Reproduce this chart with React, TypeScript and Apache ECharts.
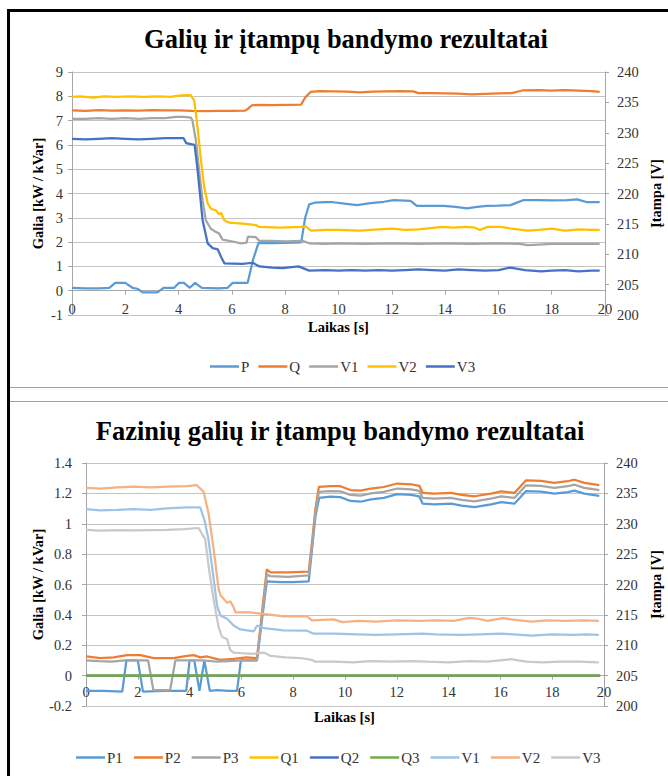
import React, { useEffect, useRef } from "react";
import * as echarts from "echarts";

const FONT = "Liberation Serif";

// ---------- Chart 1: Galių ir įtampų bandymo rezultatai ----------
const title1 = "Galių ir įtampų bandymo rezultatai";
const legend1 = ["P", "Q", "V1", "V2", "V3"];
const colors1 = ["#5B9BD5", "#ED7D31", "#A5A5A5", "#FFC000", "#4472C4"];

// P, Q in kW / kVar (left axis); time in s
const P: [number, number][] = [[0,0.12],[0.5,0.1],[1,0.1],[1.4,0.12],[1.62,0.32],[2.0,0.32],[2.27,0.12],[2.45,0.08],[2.65,-0.07],[3.2,-0.07],[3.45,0.12],[3.83,0.12],[4.02,0.32],[4.2,0.32],[4.42,0.12],[4.62,0.32],[4.87,0.12],[5.5,0.1],[5.84,0.12],[6.03,0.32],[6.59,0.32],[6.8,1.3],[7.0,1.97],[7.5,1.96],[8.0,1.97],[8.6,1.99],[8.75,3.0],[8.9,3.55],[9.1,3.62],[9.5,3.64],[9.8,3.64],[10.3,3.57],[10.7,3.52],[11.2,3.6],[11.7,3.66],[12.07,3.73],[12.7,3.7],[12.94,3.49],[13.5,3.49],[13.94,3.49],[14.4,3.45],[14.82,3.39],[15.2,3.45],[15.57,3.49],[16.0,3.5],[16.45,3.52],[16.95,3.73],[17.5,3.73],[18.0,3.72],[18.58,3.73],[18.96,3.76],[19.33,3.64],[19.8,3.64]];
const Q: [number, number][] = [[0,7.42],[0.5,7.4],[1,7.43],[1.5,7.41],[2,7.42],[2.5,7.41],[3,7.43],[3.5,7.42],[4,7.42],[4.5,7.4],[5,7.39],[5.5,7.4],[6,7.4],[6.5,7.41],[6.62,7.5],[6.75,7.63],[7,7.65],[7.5,7.64],[8,7.65],[8.6,7.66],[8.75,7.95],[8.95,8.18],[9.3,8.21],[9.8,8.2],[10.3,8.19],[10.8,8.16],[11.3,8.19],[11.8,8.2],[12.3,8.21],[12.8,8.2],[13.0,8.13],[13.5,8.13],[14,8.12],[14.5,8.11],[15,8.08],[15.5,8.1],[16,8.12],[16.5,8.13],[16.9,8.24],[17.5,8.25],[18,8.23],[18.5,8.25],[19,8.23],[19.5,8.21],[19.8,8.18]];
// V1..V3 in volts (right axis)
const V1a: [number, number][] = [[0,232.3],[0.5,232.3],[1,232.4],[1.5,232.3],[2,232.4],[2.5,232.3],[3,232.4],[3.5,232.4],[3.9,232.6],[4.2,232.6],[4.46,232.5],[4.52,232.0],[4.65,228.7],[4.77,223.8],[4.9,218.9],[5.02,215.6],[5.21,214.2],[5.35,213.8],[5.52,213.4],[5.65,212.4],[6.03,212.1],[6.34,211.8],[6.55,211.9],[6.6,212.9],[6.9,212.8],[7.03,212.2],[7.5,212.2],[8.0,212.1],[8.65,212.2],[8.9,211.8],[9.5,211.7],[10,211.8],[11,211.7],[12,211.8],[13,211.7],[14,211.8],[15,211.7],[16,211.8],[16.8,211.7],[17.1,211.5],[17.5,211.6],[18,211.7],[19,211.7],[19.8,211.7]];
const V2a: [number, number][] = [[0,235.9],[0.3,236.0],[0.8,235.8],[1.2,236.0],[1.7,235.9],[2.2,236.0],[2.7,235.9],[3.2,236.0],[3.7,235.9],[4.0,236.1],[4.3,236.2],[4.45,236.2],[4.59,235.3],[4.71,230.9],[4.84,225.4],[4.96,221.1],[5.09,218.4],[5.21,217.5],[5.4,217.2],[5.52,216.6],[5.6,216.8],[5.71,215.6],[5.9,215.2],[6.5,215.0],[6.9,214.8],[7.03,214.5],[7.8,214.4],[8.58,214.5],[8.77,214.6],[8.96,213.9],[9.5,214.0],[10,214.0],[10.8,213.9],[11.5,214.1],[12,214.2],[12.5,214.0],[13,214.1],[13.9,214.5],[14.3,214.4],[14.8,214.5],[15.1,214.4],[15.3,214.0],[15.6,214.5],[16.1,214.5],[16.5,214.2],[17.1,213.9],[17.5,214.0],[18,214.2],[18.5,213.9],[19,214.1],[19.5,214.0],[19.8,214.0]];
const V3a: [number, number][] = [[0,229.0],[0.5,228.9],[1,229.0],[1.5,229.1],[2,229.0],[2.5,228.9],[3,229.0],[3.5,229.1],[4.0,229.1],[4.19,229.1],[4.28,228.3],[4.6,228.0],[4.7,224.4],[4.9,215.6],[5.09,211.8],[5.28,211.0],[5.47,210.8],[5.59,209.6],[5.72,208.5],[6.4,208.4],[6.78,208.6],[7.03,208.0],[7.5,207.8],[7.9,207.7],[8.5,208.0],[8.9,207.3],[9.5,207.4],[10,207.3],[10.5,207.4],[11,207.3],[11.5,207.4],[12,207.3],[12.5,207.4],[13,207.5],[13.5,207.4],[14,207.3],[14.5,207.5],[15,207.4],[15.5,207.3],[16,207.4],[16.45,207.8],[17,207.4],[17.6,207.2],[18,207.3],[18.5,207.4],[19,207.2],[19.5,207.3],[19.8,207.3]];

// ---------- Chart 2: Fazinių galių ir įtampų bandymo rezultatai ----------
const title2 = "Fazinių galių ir įtampų bandymo rezultatai";
const legend2 = ["P1", "P2", "P3", "Q1", "Q2", "Q3", "V1", "V2", "V3"];
const colors2 = ["#5B9BD5", "#ED7D31", "#A5A5A5", "#FFC000", "#4472C4", "#70AD47", "#9DC3E6", "#F4B183", "#C9C9C9"];

const P1: [number, number][] = [[0,-0.1],[0.7,-0.1],[1.4,-0.105],[1.56,0.1],[2.0,0.1],[2.2,-0.105],[3.0,-0.1],[3.87,-0.1],[4.0,0.1],[4.18,0.1],[4.38,-0.1],[4.57,0.1],[4.78,-0.1],[5.06,-0.095],[5.5,-0.1],[5.83,-0.1],[5.98,0.1],[6.6,0.1],[6.98,0.62],[7.5,0.615],[8.0,0.615],[8.6,0.62],[8.73,0.84],[8.86,1.05],[9.0,1.17],[9.44,1.178],[9.82,1.175],[10.21,1.15],[10.6,1.145],[11.0,1.16],[11.5,1.17],[12.02,1.195],[12.55,1.19],[12.87,1.18],[13.0,1.132],[13.45,1.128],[14.1,1.132],[14.5,1.12],[15.0,1.11],[15.64,1.128],[16.03,1.142],[16.54,1.132],[16.99,1.215],[17.57,1.212],[18.08,1.198],[18.6,1.208],[18.86,1.218],[19.24,1.198],[19.82,1.183]];
const P2: [number, number][] = [[0,0.126],[0.55,0.115],[1.07,0.12],[1.58,0.135],[2.1,0.135],[2.61,0.115],[3.38,0.115],[3.9,0.13],[4.16,0.135],[4.41,0.12],[4.67,0.126],[5.18,0.104],[5.7,0.11],[6.2,0.12],[6.6,0.115],[6.98,0.7],[7.12,0.68],[7.8,0.68],[8.6,0.685],[8.73,0.885],[8.86,1.1],[8.99,1.243],[9.44,1.248],[9.82,1.247],[10.21,1.222],[10.6,1.218],[11.0,1.232],[11.5,1.242],[12.02,1.265],[12.55,1.26],[12.87,1.25],[13.0,1.203],[13.45,1.199],[14.1,1.203],[14.5,1.19],[15.0,1.181],[15.64,1.199],[16.03,1.213],[16.54,1.203],[16.99,1.286],[17.57,1.282],[18.08,1.269],[18.6,1.28],[18.86,1.29],[19.24,1.269],[19.82,1.254]];
const P3: [number, number][] = [[0,0.1],[0.5,0.095],[1.0,0.092],[1.5,0.1],[2.4,0.1],[2.6,-0.095],[3.25,-0.095],[3.45,0.1],[4.5,0.1],[5.0,0.093],[5.5,0.095],[6.0,0.1],[6.6,0.1],[6.98,0.665],[7.12,0.655],[7.8,0.65],[8.6,0.66],[8.73,0.86],[8.86,1.075],[8.99,1.21],[9.44,1.215],[9.82,1.213],[10.21,1.19],[10.6,1.185],[11.0,1.2],[11.5,1.21],[12.02,1.232],[12.55,1.227],[12.87,1.217],[13.0,1.17],[13.45,1.166],[14.1,1.17],[14.5,1.157],[15.0,1.148],[15.64,1.166],[16.03,1.18],[16.54,1.17],[16.99,1.253],[17.57,1.249],[18.08,1.236],[18.6,1.247],[18.86,1.257],[19.24,1.236],[19.82,1.221]];
const qTime = [0, 5, 10, 15, 19.85];
const Q1v = [0, 0, 0, 0, 0];
const Q2v = [0, 0, 0, 0, 0];
const Q3v = [0, 0, 0, 0, 0];
const V1b: [number, number][] = [[0,232.4],[0.55,232.2],[1.2,232.3],[1.84,232.4],[2.5,232.3],[3.13,232.55],[3.9,232.7],[4.41,232.7],[4.57,230.65],[4.73,227.4],[4.93,220.9],[5.06,216.5],[5.19,214.9],[5.45,214.35],[5.7,213.25],[5.96,212.6],[6.22,212.45],[6.48,212.3],[6.61,213.25],[6.87,212.8],[7.63,212.45],[8.53,212.4],[8.79,211.9],[9.56,211.9],[10.5,211.8],[11.2,211.7],[12,211.8],[13,211.9],[13.5,211.8],[14.5,211.7],[15.2,211.8],[16,211.9],[16.5,211.8],[17.2,211.6],[18,211.8],[18.8,211.7],[19.3,211.8],[19.8,211.7]];
const V2b: [number, number][] = [[0,235.9],[0.55,235.8],[1.2,236.0],[1.84,236.1],[2.5,236.0],[3.13,236.1],[3.9,236.2],[4.28,236.35],[4.54,235.25],[4.73,231.75],[4.93,225.75],[5.12,219.25],[5.19,218.25],[5.45,217.0],[5.57,217.25],[5.7,216.25],[5.77,215.4],[6.35,215.4],[6.86,215.15],[7.63,214.75],[8.53,214.75],[8.72,214.1],[9.56,214.25],[9.9,213.8],[10.5,214.0],[11.2,213.9],[12,214.1],[12.9,214.0],[13.5,214.1],[14.2,214.0],[14.8,214.5],[15.1,214.4],[15.5,214.0],[16.1,214.45],[16.5,214.2],[17.2,213.9],[17.8,214.1],[18.5,214.0],[19.2,214.1],[19.8,214.0]];
const V3b: [number, number][] = [[0,229.0],[0.55,228.85],[1.2,228.95],[1.84,228.9],[2.5,228.95],[3.13,229.0],[3.8,229.1],[4.35,229.3],[4.48,228.3],[4.6,227.5],[4.75,222.5],[4.93,217.4],[5.12,213.0],[5.25,211.4],[5.45,211.0],[5.57,209.2],[5.7,208.8],[5.96,208.7],[6.48,208.6],[6.87,208.8],[7.12,208.25],[7.7,208.0],[8.28,207.9],[8.72,207.6],[8.85,207.3],[9.56,207.3],[10.3,207.2],[11,207.4],[11.8,207.3],[12.5,207.4],[13.2,207.3],[14,207.2],[14.8,207.4],[15.5,207.3],[16.4,207.7],[17,207.3],[17.6,207.2],[18.3,207.3],[19,207.3],[19.8,207.2]];

const xName = "Laikas [s]";
const yLeftName = "Galia [kW / kVar]";
const yRightName = "Įtampa [V]";

const zip = (t: number[], v: number[]) => t.map((x, i) => [x, v[i]]);

const AX = "#A6A6A6";
const GRID = "#C4C4C4";
const LBL = "#333333";

function line(name: string, data: any[], color: string, yAxisIndex: number) {
  return {
    type: "line",
    name,
    data,
    yAxisIndex,
    showSymbol: false,
    symbol: "none",
    silent: true,
    lineStyle: { color, width: 2.25 },
    itemStyle: { color },
  };
}

function makeOption(cfg: {
  title: string; titleX: number; titleY: number;
  grid: { left: number; right: number; top: number; height: number };
  yMin: number; yMax: number; yInt: number; yLabelMargin: number; xLabelMargin: number;
  xNameX: number; xNameY: number; sideNameY: number;
  legendNames: string[]; legendLeft: number; legendTop: number; legendGap: number;
  series: any[];
}) {
  const textStyle = { fontFamily: FONT, fontSize: 14.5, color: LBL, fontWeight: "normal" };
  // x axis crosses the left value axis at 0: shift it up from the bottom by the zero's share of the height
  const zeroOffset = -cfg.grid.height * (0 - cfg.yMin) / (cfg.yMax - cfg.yMin);
  return {
    animation: false,
    textStyle: { fontFamily: FONT },
    grid: { ...cfg.grid, containLabel: false },
    xAxis: {
      type: "value", min: 0, max: 20, interval: 2,
      position: "bottom",
      offset: zeroOffset,
      axisLine: { show: true, onZero: false, lineStyle: { color: AX, width: 1 } },
      axisTick: { show: true, length: 4, lineStyle: { color: AX } },
      axisLabel: { ...textStyle, margin: cfg.xLabelMargin, showMaxLabel: true, showMinLabel: true },
      splitLine: { show: false },
    },
    yAxis: [
      {
        type: "value", min: cfg.yMin, max: cfg.yMax, interval: cfg.yInt,
        axisLine: { show: true, onZero: false, lineStyle: { color: AX } },
        axisTick: { show: true, length: 4, lineStyle: { color: AX } },
        axisLabel: { ...textStyle, margin: cfg.yLabelMargin },
        splitLine: { show: true, showMinLine: true, showMaxLine: true, lineStyle: { color: GRID, width: 1 } },
      },
      {
        type: "value", position: "right", min: 200, max: 240, interval: 5,
        axisLine: { show: true, onZero: false, lineStyle: { color: AX } },
        axisTick: { show: true, length: 4, lineStyle: { color: AX } },
        axisLabel: { ...textStyle, margin: 12 },
        splitLine: { show: false },
      },
    ],
    legend: {
      data: cfg.legendNames,
      left: cfg.legendLeft,
      top: cfg.legendTop,
      icon: "rect",
      itemWidth: 29,
      itemHeight: 2.5,
      itemGap: cfg.legendGap,
      selectedMode: false,
      textStyle: { fontFamily: FONT, fontSize: 15, color: LBL, padding: [0, 0, 0, -3] },
    },
    graphic: [
      {
        type: "text", x: cfg.titleX, y: cfg.titleY,
        style: { text: cfg.title, fontFamily: FONT, fontSize: 26.5, fontWeight: "bold", fill: "#000", align: "center", verticalAlign: "middle" },
      },
      {
        type: "text", x: cfg.xNameX, y: cfg.xNameY,
        style: { text: xName, fontFamily: FONT, fontSize: 14.5, fontWeight: "bold", fill: "#000", align: "center", verticalAlign: "middle" },
      },
      {
        type: "text", x: 37.5, y: cfg.sideNameY, rotation: Math.PI / 2,
        style: { text: yLeftName, fontFamily: FONT, fontSize: 14.5, fontWeight: "bold", fill: "#000", align: "center", verticalAlign: "middle" },
      },
      {
        type: "text", x: 656, y: cfg.sideNameY, rotation: Math.PI / 2,
        style: { text: yRightName, fontFamily: FONT, fontSize: 14.5, fontWeight: "bold", fill: "#000", align: "center", verticalAlign: "middle" },
      },
    ],
    series: cfg.series,
  };
}

const option1 = makeOption({
  title: title1, titleX: 346, titleY: 39,
  grid: { left: 72, right: 63, top: 72, height: 243 },
  yMin: -1, yMax: 9, yInt: 1, yLabelMargin: 9, xLabelMargin: 11,
  xNameX: 338.5, xNameY: 326.5, sideNameY: 193.5,
  legendNames: legend1, legendLeft: 205, legendTop: 354, legendGap: 9,
  series: [
    line(legend1[0], P, colors1[0], 0),
    line(legend1[1], Q, colors1[1], 0),
    line(legend1[2], V1a, colors1[2], 1),
    line(legend1[3], V2a, colors1[3], 1),
    line(legend1[4], V3a, colors1[4], 1),
  ],
});

const TOP2 = 402;
const option2 = makeOption({
  title: title2, titleX: 340, titleY: 430.5 - TOP2,
  grid: { left: 86, right: 64, top: 463 - TOP2, height: 243 },
  yMin: -0.2, yMax: 1.4, yInt: 0.2, yLabelMargin: 14, xLabelMargin: 9,
  xNameX: 344.5, xNameY: 717 - TOP2, sideNameY: 584.5 - TOP2,
  legendNames: legend2, legendLeft: 71, legendTop: 745 - TOP2, legendGap: 11,
  series: [
    line(legend2[0], P1, colors2[0], 0),
    line(legend2[1], P2, colors2[1], 0),
    line(legend2[2], P3, colors2[2], 0),
    line(legend2[3], zip(qTime, Q1v), colors2[3], 0),
    line(legend2[4], zip(qTime, Q2v), colors2[4], 0),
    line(legend2[5], zip(qTime, Q3v), colors2[5], 0),
    line(legend2[6], V1b, colors2[6], 1),
    line(legend2[7], V2b, colors2[7], 1),
    line(legend2[8], V3b, colors2[8], 1),
  ],
});

function Chart({ option, style }: { option: any; style: React.CSSProperties }) {
  const ref = useRef<HTMLDivElement>(null);
  useEffect(() => {
    const chart = echarts.init(ref.current!, null, { renderer: "svg" });
    chart.setOption(option);
    return () => chart.dispose();
  }, [option]);
  return <div ref={ref} style={style} />;
}

export default function App() {
  return (
    <div style={{ position: "absolute", left: 0, top: 0, width: 668, height: 776, background: "#fff", overflow: "hidden" }}>
      <Chart option={option1} style={{ position: "absolute", left: 0, top: 0, width: 668, height: 386 }} />
      <Chart option={option2} style={{ position: "absolute", left: 0, top: TOP2, width: 668, height: 776 - TOP2 }} />
      <div style={{ position: "absolute", left: 7, top: 9, width: 3, height: 767, background: "#000" }} />
      <div style={{ position: "absolute", left: 7, top: 9, width: 661, height: 3, background: "#000" }} />
      <div style={{ position: "absolute", left: 10, top: 387, width: 658, height: 1, background: "#A0A0A0" }} />
      <div style={{ position: "absolute", left: 10, top: 401, width: 658, height: 1, background: "#A0A0A0" }} />
    </div>
  );
}
